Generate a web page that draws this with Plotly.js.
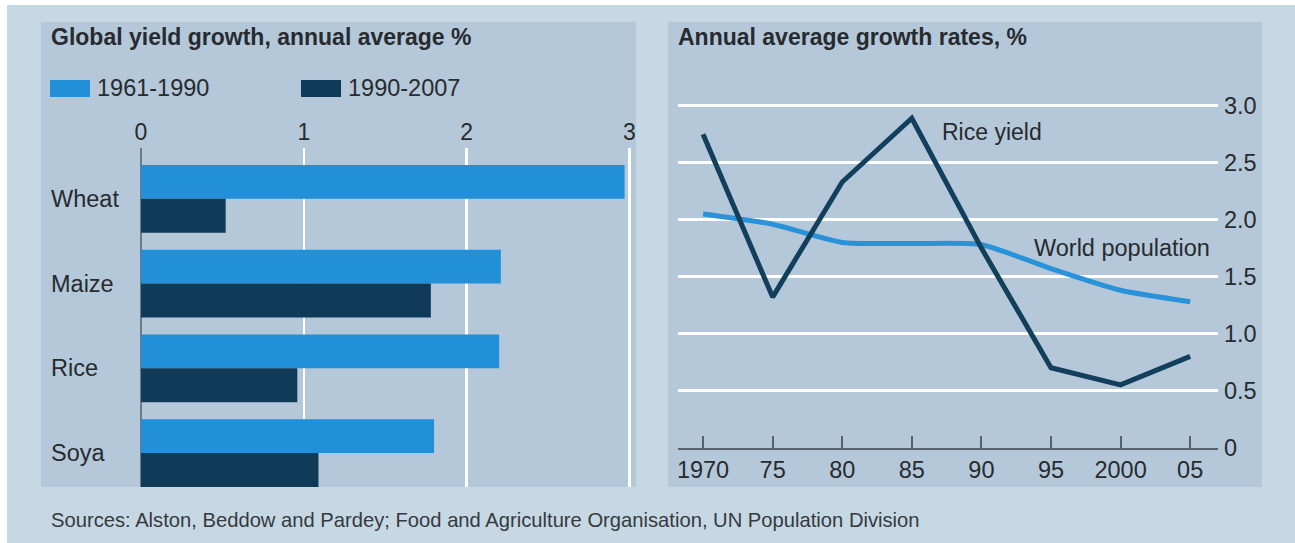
<!DOCTYPE html>
<html>
<head>
<meta charset="utf-8">
<script src="https://cdn.plot.ly/plotly-3.0.1.min.js"></script>
<style>
  html, body { margin: 0; padding: 0; background: #ffffff; }
  #chart { width: 1295px; height: 543px; }
</style>
</head>
<body>
<div id="chart"></div>
<script>
// Left panel: global yield growth by crop, annual average %
const crops = ['Wheat', 'Maize', 'Rice', 'Soya'];
const yield1961to1990 = [2.97, 2.21, 2.20, 1.80];
const yield1990to2007 = [0.52, 1.78, 0.96, 1.09];
const periodNames = ['1961-1990', '1990-2007'];
const barTicks = [0, 1, 2, 3];

// Right panel: annual average growth rates, %
const years = [1970, 1975, 1980, 1985, 1990, 1995, 2000, 2005];
const yearLabels = ['1970', '75', '80', '85', '90', '95', '2000', '05'];
const riceYield = [2.75, 1.32, 2.33, 2.89, 1.75, 0.70, 0.55, 0.80];
const worldPopulation = [2.05, 1.96, 1.80, 1.79, 1.78, 1.57, 1.38, 1.28];
const rateTicks = [0, 0.5, 1.0, 1.5, 2.0, 2.5, 3.0];
const rateTickText = ['0', '0.5', '1.0', '1.5', '2.0', '2.5', '3.0'];

const W = 1295, H = 543;
const px = v => v / W;
const py = v => 1 - v / H;

const FONT = '"Liberation Sans", Arial, sans-serif';
const TXT = '#272b2f';
const LIGHT = '#2190d8';
const DARK = '#0f3b59';

const traces = [
  {
    type: 'bar', orientation: 'h', name: periodNames[0],
    y: crops, x: yield1961to1990, xaxis: 'x', yaxis: 'y',
    marker: { color: LIGHT }, hoverinfo: 'x+y'
  },
  {
    type: 'bar', orientation: 'h', name: periodNames[1],
    y: crops, x: yield1990to2007, xaxis: 'x', yaxis: 'y',
    marker: { color: DARK }, hoverinfo: 'x+y'
  },
  {
    type: 'scatter', mode: 'lines', name: 'World population',
    x: years, y: worldPopulation, xaxis: 'x2', yaxis: 'y2',
    line: { color: '#2a92d8', width: 5, shape: 'spline', smoothing: 0.6 }
  },
  {
    type: 'scatter', mode: 'lines', name: 'Rice yield',
    x: years, y: riceYield, xaxis: 'x2', yaxis: 'y2',
    line: { color: '#123f5c', width: 5 }
  }
];

const annotations = [
  // Panel titles
  { xref: 'paper', yref: 'paper', x: px(49), y: py(37), xanchor: 'left', yanchor: 'middle',
    text: '<b>Global yield growth, annual average %</b>', showarrow: false,
    font: { family: FONT, size: 23, color: TXT } },
  { xref: 'paper', yref: 'paper', x: px(676), y: py(37), xanchor: 'left', yanchor: 'middle',
    text: '<b>Annual average growth rates, %</b>', showarrow: false,
    font: { family: FONT, size: 23, color: TXT } },
  // Legend labels
  { xref: 'paper', yref: 'paper', x: px(95), y: py(88), xanchor: 'left', yanchor: 'middle',
    text: periodNames[0], showarrow: false, font: { family: FONT, size: 23.5, color: TXT } },
  { xref: 'paper', yref: 'paper', x: px(346), y: py(88), xanchor: 'left', yanchor: 'middle',
    text: periodNames[1], showarrow: false, font: { family: FONT, size: 23.5, color: TXT } },
  // Line labels
  { xref: 'x2', yref: 'y2', x: 1987.0, y: 2.77, xanchor: 'left', yanchor: 'middle',
    text: 'Rice yield', showarrow: false, font: { family: FONT, size: 23, color: TXT } },
  { xref: 'x2', yref: 'y2', x: 1993.6, y: 1.75, xanchor: 'left', yanchor: 'middle',
    text: 'World population', showarrow: false, font: { family: FONT, size: 23.5, color: TXT } },
  // Source note
  { xref: 'paper', yref: 'paper', x: px(49), y: py(520), xanchor: 'left', yanchor: 'middle',
    text: 'Sources: Alston, Beddow and Pardey; Food and Agriculture Organisation, UN Population Division',
    showarrow: false, font: { family: FONT, size: 20.2, color: '#353a3f' } }
];

// Crop names, left aligned at the panel's inner edge
crops.forEach(c => annotations.push({
  xref: 'paper', yref: 'y', x: px(49), y: c, xanchor: 'left', yanchor: 'middle',
  text: c, showarrow: false, font: { family: FONT, size: 23.5, color: TXT }
}));

const shapes = [
  // Outer frame
  { type: 'rect', xref: 'paper', yref: 'paper', x0: px(7), x1: 1, y0: 0, y1: py(5),
    fillcolor: '#c6d8e3', line: { width: 0 }, layer: 'below' },
  // Left panel
  { type: 'rect', xref: 'paper', yref: 'paper', x0: px(41), x1: px(636), y0: py(487), y1: py(22),
    fillcolor: '#b4c8d9', line: { width: 0 }, layer: 'below' },
  // Right panel
  { type: 'rect', xref: 'paper', yref: 'paper', x0: px(668), x1: px(1262), y0: py(487), y1: py(22),
    fillcolor: '#b4c8d9', line: { width: 0 }, layer: 'below' },
  // Legend swatches
  { type: 'rect', xref: 'paper', yref: 'paper', x0: px(50), x1: px(90), y0: py(97), y1: py(80),
    fillcolor: LIGHT, line: { width: 0 } },
  { type: 'rect', xref: 'paper', yref: 'paper', x0: px(301), x1: px(341), y0: py(97), y1: py(80),
    fillcolor: DARK, line: { width: 0 } }
];

const layout = {
  width: W, height: H,
  margin: { l: 0, r: 0, t: 0, b: 0, pad: 0 },
  paper_bgcolor: '#ffffff',
  plot_bgcolor: 'rgba(0,0,0,0)',
  showlegend: false,
  barmode: 'group', bargap: 0.2, bargroupgap: 0,
  font: { family: FONT, color: TXT },
  xaxis: {
    domain: [px(141), px(636)], anchor: 'y', side: 'top',
    range: [0, 3.04], tickvals: barTicks, ticks: '', ticklen: 0,
    showgrid: true, gridcolor: '#ffffff', gridwidth: 2.5,
    zeroline: true, zerolinecolor: '#6b7a86', zerolinewidth: 2,
    showline: false, fixedrange: true,
    tickfont: { family: FONT, size: 23, color: TXT }, ticklabelstandoff: 2
  },
  yaxis: {
    domain: [py(487), py(148)], anchor: 'x',
    type: 'category', categoryorder: 'array', categoryarray: crops,
    range: [3.4, -0.6], showticklabels: false, showgrid: false,
    zeroline: false, showline: false, ticks: '', fixedrange: true
  },
  xaxis2: {
    domain: [px(678), px(1218)], anchor: 'y2',
    range: [1968.2, 2007.0], tickvals: years, ticktext: yearLabels,
    ticks: 'inside', ticklen: 12, tickwidth: 2, tickcolor: '#56636e',
    showline: true, linecolor: '#56636e', linewidth: 2,
    showgrid: false, zeroline: false, fixedrange: true,
    tickfont: { family: FONT, size: 23.5, color: TXT }, ticklabelstandoff: 0
  },
  yaxis2: {
    domain: [py(447.5), py(100)], anchor: 'x2', side: 'right',
    range: [0, 3.05], tickvals: rateTicks, ticktext: rateTickText,
    ticks: '', showgrid: true, gridcolor: '#ffffff', gridwidth: 2.5,
    zeroline: false, showline: false, fixedrange: true,
    tickfont: { family: FONT, size: 23.5, color: TXT }, ticklabelstandoff: 5
  },
  annotations: annotations,
  shapes: shapes
};

Plotly.newPlot('chart', traces, layout, { displayModeBar: false, staticPlot: true });
</script>
</body>
</html>
